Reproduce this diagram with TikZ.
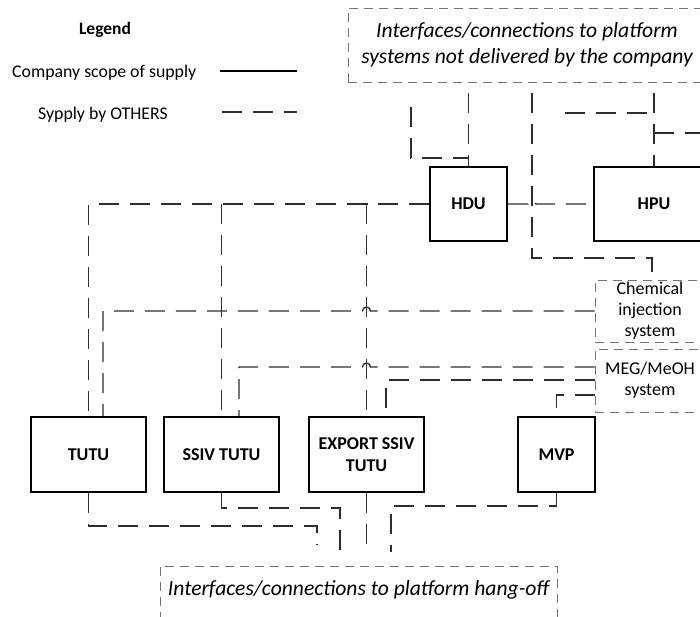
\documentclass[tikz,border=0pt]{standalone}
\usepackage{fontspec}
\setmainfont{Carlito}
\begin{document}
\begin{tikzpicture}[x=1pt,y=1pt,
  unit/.style={draw=black, line width=2.2pt, font=\fontsize{18}{22}\selectfont\bfseries, align=center, inner sep=0pt},
  conn/.style={draw=black!82, line width=1.4pt, dash pattern=on 20pt off 11pt},
  sysbox/.style={draw=black!55, line width=0.9pt, dash pattern=on 9pt off 6pt, font=\fontsize{18}{21}\selectfont, align=center, inner sep=0pt},
  legtext/.style={font=\fontsize{17.8}{21}\selectfont, inner sep=0pt, anchor=west},
  ital/.style={font=\fontsize{21.6}{26}\selectfont\itshape}
]
\useasboundingbox (0,0) rectangle (700,-616);
\clip (0,0) rectangle (700,-616);

% legend
\node[font=\fontsize{17.5}{21}\selectfont\bfseries, inner sep=0pt] (legend) at (105,-30) {Legend};
\node[legtext] (own) at (12,-73) {Company scope of supply};
\node[legtext] (others) at (38,-115) {Sypply by OTHERS};
\coordinate (s1) at (220,-71); \coordinate (s2) at (297,-71);
\draw[line width=2.4pt] (s1) -- (s2);
\coordinate (d1) at (222,-112); \coordinate (d2) at (297,-112);
\draw[conn] (d1) -- (d2);

% system boxes
\node[sysbox, ital, minimum width=358pt, minimum height=74pt] (topbox) at (527,-45) {Interfaces/connections to platform\\systems not delivered by the company};
\node[sysbox, minimum width=110pt, minimum height=62pt] (chem) at (650,-311) {Chemical\\injection\\system};
\node[sysbox, minimum width=110pt, minimum height=63pt] (meg) at (650,-380.5) {MEG/MeOH\\system};
\node[sysbox, minimum width=397pt, minimum height=60pt] (hang) at (358.5,-596) {};
\node[ital, inner sep=0pt] (hangtxt) at (358.5,-590) {Interfaces/connections to platform hang-off};

% units
\node[unit, minimum width=77pt, minimum height=74pt] (hdu) at (468.5,-204) {HDU};
\node[unit, minimum width=120pt, minimum height=74pt] (hpu) at (654,-204) {HPU};
\node[unit, minimum width=115pt, minimum height=75pt] (tutu) at (88.5,-454.5) {TUTU};
\node[unit, minimum width=115pt, minimum height=75pt] (ssiv) at (221.5,-454.5) {SSIV TUTU};
\node[unit, minimum width=115pt, minimum height=75pt] (export) at (366.5,-454.5) {EXPORT SSIV\\TUTU};
\node[unit, minimum width=77pt, minimum height=75pt] (mvp) at (556.5,-454.5) {MVP};

% HDU bus
\draw[conn] (hdu.west) -- (export.north |- hdu.west) -- (export.north);
\draw[conn] (export.north |- hdu.west) -- (tutu.north |- hdu.west) -- (tutu.north);
\draw[conn] (ssiv.north |- hdu.west) -- (ssiv.north);

% chemical injection
\draw[conn] (chem.west) -- (370.5,-311) arc[start angle=0, end angle=180, radius=4pt] -- (103,-311) -- (103,0 |- tutu.north);

% MEG/MeOH
\draw[conn] (meg.west |- 0,-367) -- (370.5,-367) arc[start angle=0, end angle=180, radius=4pt] -- (239,-367) -- (239,0 |- ssiv.north);
\draw[conn] (meg.west |- 0,-380) -- (386,-380) -- (386,0 |- export.north);
\draw[conn] (meg.west |- 0,-395) -- (mvp.north |- 0,-395) -- (mvp.north);

% HDU - HPU
\draw[conn] (hdu.east) -- (528,-204) arc[start angle=180, end angle=0, radius=4pt] -- (hpu.west);

% platform systems
\draw[conn, dash phase=20pt] (topbox.south -| 532,0) -- (532,-258) -- (652,-258) -- (chem.north -| 652,0);
\draw[conn, dash phase=20pt] (topbox.south -| hpu.north) -- (hpu.north);
\coordinate (h1) at (565,-113);
\draw[conn] (h1) -- (hpu.north |- h1);
\coordinate (h2) at (710,-133);
\draw[conn] (hpu.north |- h2) -- (h2);
\draw[conn, dash phase=20pt] (topbox.south -| hdu.north) -- (hdu.north);
\coordinate (k1) at (411,-107);
\draw[conn] (k1) -- (411,-158) -- (hdu.north |- 0,-158);

% hang-off
\coordinate (b1) at (317,-545);
\draw[conn] (tutu.south) -- (tutu.south |- 0,-526) -- (b1 |- 0,-526) -- (b1);
\coordinate (b2) at (340,-552);
\draw[conn] (ssiv.south) -- (ssiv.south |- 0,-508) -- (b2 |- 0,-508) -- (b2);
\coordinate (b3) at (366.5,-545);
\draw[conn] (export.south) -- (b3);
\coordinate (b4) at (391,-552);
\draw[conn] (mvp.south) -- (mvp.south |- 0,-506) -- (b4 |- 0,-506) -- (b4);
\end{tikzpicture}
\end{document}
